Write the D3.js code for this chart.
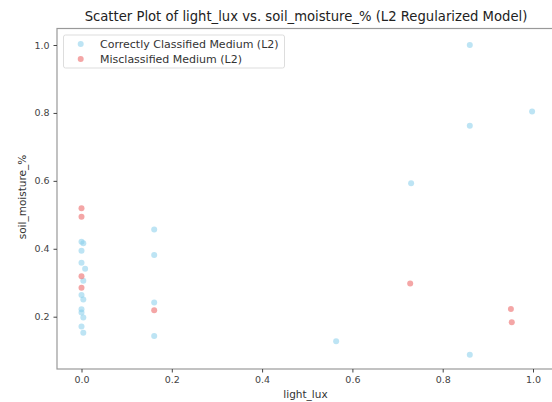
<!DOCTYPE html>
<html><head><meta charset="utf-8">
<script src="https://cdn.jsdelivr.net/npm/d3@7"></script>
<style>body{margin:0;background:#fff}svg{display:block;font-family:"DejaVu Sans",sans-serif}</style>
</head><body><svg id="c" width="552" height="402"></svg>
<script>
const correctX = [0.860,0.998,0.860,0.730,0.860,0.564,0.161,0.161,0.161,0.161,
  0.000,0.004,0.000,0.000,0.008,0.004,0.000,0.004,0.000,0.000,0.004,0.000,0.004];
const correctY = [1.000,0.804,0.762,0.593,0.088,0.128,0.457,0.382,0.242,0.143,
  0.421,0.416,0.394,0.359,0.341,0.306,0.264,0.251,0.222,0.212,0.198,0.171,0.153];
const misX = [0.161,0.728,0.951,0.953,0.000,0.000,0.000,0.000];
const misY = [0.219,0.298,0.223,0.184,0.519,0.494,0.319,0.285];
const xTicks = [0.0,0.2,0.4,0.6,0.8,1.0];
const yTicks = [0.2,0.4,0.6,0.8,1.0];
const seriesNames = ["Correctly Classified Medium (L2)","Misclassified Medium (L2)"];
const seriesColors = ["#87CEEB","#F08080"];

const svg = d3.select("#c");
const L=57, R=555, T=28.5, B=369;
const x = d3.scaleLinear().domain([0,1]).range([81.5,533]);
const y = d3.scaleLinear().domain([0.2,1.0]).range([316.7,45]);

svg.append("defs").append("clipPath").attr("id","clip")
  .append("rect").attr("x",L).attr("y",T).attr("width",R-L).attr("height",B-T);

const g = svg.append("g").attr("clip-path","url(#clip)");
const series = [
  {xs:correctX, ys:correctY, c:seriesColors[0], o:0.55},
  {xs:misX, ys:misY, c:seriesColors[1], o:0.7}
];
series.forEach(s=>{
  g.selectAll(null).data(s.xs.map((v,i)=>[v,s.ys[i]])).enter().append("circle")
    .attr("cx",d=>x(d[0])).attr("cy",d=>y(d[1])).attr("r",3)
    .attr("fill",s.c).attr("fill-opacity",s.o);
});

// frame
svg.append("rect").attr("x",L).attr("y",T).attr("width",R-L).attr("height",B-T)
  .attr("fill","none").attr("stroke","#999").attr("stroke-width",1.2);

const xa = svg.append("g").attr("transform",`translate(0,${B})`)
  .call(d3.axisBottom(x).tickValues(xTicks).tickFormat(d3.format(".1f")).tickSize(3.5).tickPadding(4));
const ya = svg.append("g").attr("transform",`translate(${L},0)`)
  .call(d3.axisLeft(y).tickValues(yTicks).tickFormat(d3.format(".1f")).tickSize(3.5).tickPadding(4));
[xa,ya].forEach(a=>{
  a.select(".domain").remove();
  a.selectAll("line").attr("stroke","#444");
  a.selectAll("text").attr("fill","#444").style("font-size","9.5px").style("font-family","DejaVu Sans");
});

svg.append("text").attr("x",306).attr("y",21).attr("text-anchor","middle")
  .attr("fill","#222").style("font-size","13.2px").text("Scatter Plot of light_lux vs. soil_moisture_% (L2 Regularized Model)");
svg.append("text").attr("x",305.5).attr("y",397.5).attr("text-anchor","middle")
  .attr("fill","#333").style("font-size","10.5px").text("light_lux");
svg.append("text").attr("transform","translate(26,197) rotate(-90)").attr("text-anchor","middle")
  .attr("fill","#333").style("font-size","10.5px").text("soil_moisture_%");

// legend
const lg = svg.append("g");
lg.append("rect").attr("x",63.5).attr("y",35).attr("width",221).attr("height",33).attr("rx",2)
  .attr("fill","#fff").attr("fill-opacity",0.8).attr("stroke","#ddd");
seriesNames.forEach((n,i)=>{
  const yy = 44 + i*15;
  lg.append("circle").attr("cx",80.7).attr("cy",yy).attr("r",3).attr("fill",seriesColors[i]).attr("fill-opacity",series[i].o);
  lg.append("text").attr("x",100).attr("y",yy+4).attr("fill","#333").style("font-size","11px").text(n);
});
</script></body></html>
